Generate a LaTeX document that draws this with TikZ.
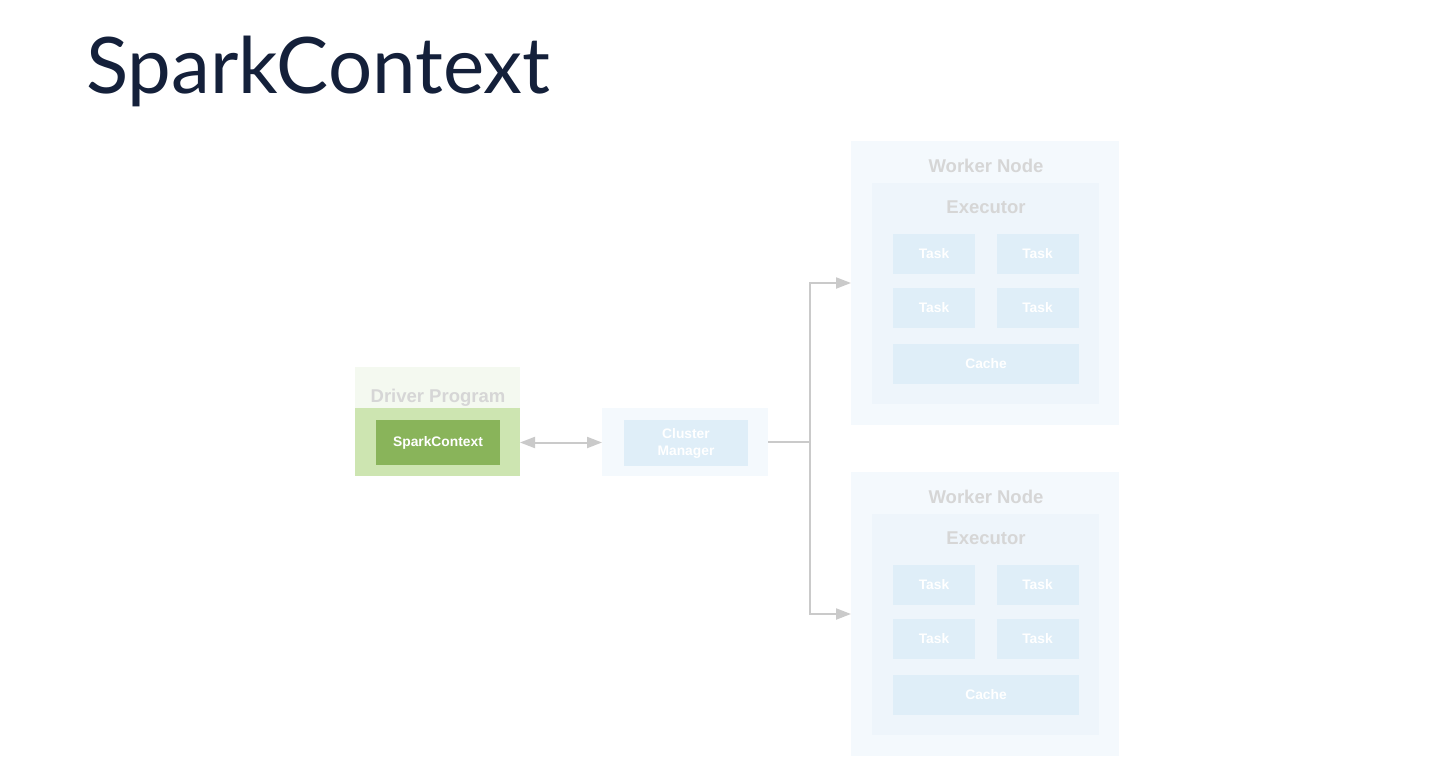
\documentclass[tikz,border=0pt]{standalone}
\usepackage{fontspec}
\setmainfont{Liberation Sans}
\newfontfamily\titlefont{Lato}
\usetikzlibrary{arrows.meta}
\definecolor{titlecol}{HTML}{14203A}
\definecolor{drvlight}{HTML}{F4F9F0}
\definecolor{drvgreen}{HTML}{CDE5B1}
\definecolor{scgreen}{HTML}{89B45A}
\definecolor{outerblue}{HTML}{F4F9FD}
\definecolor{execblue}{HTML}{EEF5FB}
\definecolor{taskblue}{HTML}{DFEEF8}
\definecolor{headgray}{HTML}{D6D6D6}
\definecolor{linegray}{HTML}{CACACA}
\tikzset{
  box/.style={draw=none, inner sep=0pt, outer sep=0pt},
  headtxt/.style={text=headgray, font=\bfseries\fontsize{18.5}{20}\selectfont},
  smalltxt/.style={text=white, font=\bfseries\fontsize{13.8}{15}\selectfont, align=center},
  conn/.style={draw=linegray, line width=2pt},
  tip/.style={-{Triangle[length=15pt,width=11pt]}}
}
\begin{document}
\begin{tikzpicture}[x=1pt,y=-1pt]
\useasboundingbox[fill=white] (0,0) rectangle (1456,784);
\node[anchor=base west, inner sep=0pt, text=titlecol, font=\titlefont\fontsize{78}{82}\selectfont] (title) at (86,93) {SparkContext};
% Driver program
\node[box, fill=drvlight, minimum width=165pt, minimum height=41pt] (drvtop) at (437.5,387.5) {};
\node[box, fill=drvgreen, minimum width=165pt, minimum height=68pt] (drvbot) at (437.5,442) {};
\node[headtxt] (drvlbl) at (438,397.5) {Driver Program};
\node[box, fill=scgreen, minimum width=124pt, minimum height=45pt, smalltxt] (sc) at (438,442.5) {SparkContext};
% Cluster manager
\node[box, fill=outerblue, minimum width=166pt, minimum height=68pt] (cm) at (685,442) {};
\node[box, fill=taskblue, minimum width=124pt, minimum height=46pt, smalltxt, font=\bfseries\fontsize{13.8}{17}\selectfont] (cmin) at (686,443) {Cluster\\Manager};
% Worker nodes
\foreach \n/\dy in {1/0,2/331}{
  \node[box, fill=outerblue, minimum width=268pt, minimum height=284pt] (w\n) at (985,283+\dy) {};
  \node[headtxt] (w\n lbl) at (986,166+\dy) {Worker Node};
  \node[box, fill=execblue, minimum width=227pt, minimum height=221pt] (e\n) at (985.5,293.5+\dy) {};
  \node[headtxt] (e\n lbl) at (986,207+\dy) {Executor};
  \node[box, fill=taskblue, minimum width=82pt, minimum height=40pt, smalltxt] (t\n a) at (934,254+\dy) {Task};
  \node[box, fill=taskblue, minimum width=82pt, minimum height=40pt, smalltxt] (t\n b) at (1037.5,254+\dy) {Task};
  \node[box, fill=taskblue, minimum width=82pt, minimum height=40pt, smalltxt] (t\n c) at (934,308+\dy) {Task};
  \node[box, fill=taskblue, minimum width=82pt, minimum height=40pt, smalltxt] (t\n d) at (1037.5,308+\dy) {Task};
  \node[box, fill=taskblue, minimum width=186pt, minimum height=40pt, smalltxt] (c\n) at (986,364+\dy) {Cache};
}
% connectors
\draw[conn, {Triangle[length=15pt,width=11pt]}-{Triangle[length=15pt,width=11pt]}] (drvbot.east |- sc.east) -- (cm.west |- sc.east);
\draw[conn] (cm.east) -- ++(42,0) coordinate (br);
\draw[conn, tip] (br) |- (w1.west);
\draw[conn, tip] (br) |- (w2.west);
\end{tikzpicture}
\end{document}
